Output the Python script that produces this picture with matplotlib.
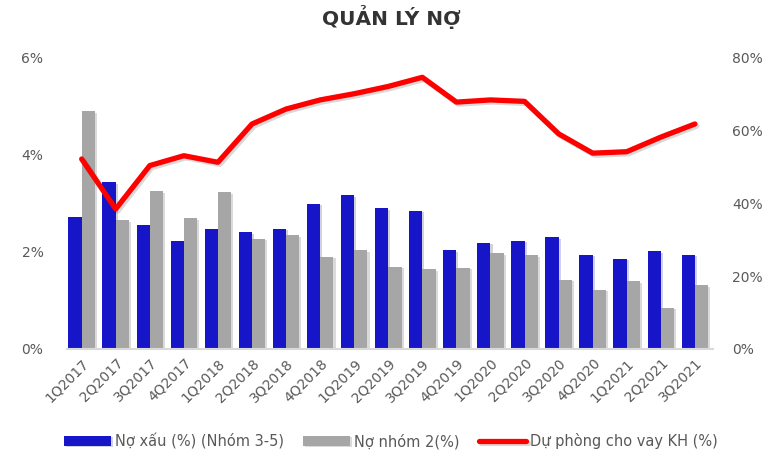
import numpy as np
import matplotlib
matplotlib.use("Agg")
import matplotlib.pyplot as plt
import matplotlib.patheffects as pe
from matplotlib.ticker import FuncFormatter

# Data
quarters = ["1Q2017", "2Q2017", "3Q2017", "4Q2017", "1Q2018", "2Q2018", "3Q2018",
            "4Q2018", "1Q2019", "2Q2019", "3Q2019", "4Q2019", "1Q2020", "2Q2020",
            "3Q2020", "4Q2020", "1Q2021", "2Q2021", "3Q2021"]
no_xau = [2.71, 3.43, 2.55, 2.22, 2.47, 2.40, 2.47, 2.98, 3.16, 2.89,
          2.84, 2.03, 2.18, 2.22, 2.30, 1.94, 1.86, 2.01, 1.94]
no_nhom2 = [4.89, 2.65, 3.24, 2.69, 3.22, 2.27, 2.34, 1.89, 2.03, 1.69,
            1.64, 1.67, 1.97, 1.93, 1.42, 1.22, 1.39, 0.85, 1.31]
du_phong = [52.1, 38.4, 50.3, 53.0, 51.2, 61.7, 65.8, 68.3, 70.0, 72.0,
            74.5, 67.7, 68.3, 67.9, 59.0, 53.7, 54.1, 58.1, 61.7]

labels = ["Nợ xấu (%) (Nhóm 3-5)", "Nợ nhóm 2(%)", "Dự phòng cho vay KH (%)"]

BLUE = "#1616C8"
GRAY = "#A6A6A6"
RED = "#FF0000"
TXT = "#595959"

plt.rcParams["font.family"] = ["DejaVu Sans"]

fig = plt.figure(figsize=(7.82, 4.58), dpi=100)
ax = fig.add_axes([0.0857, 0.238, 0.826, 0.637])
ax2 = ax.twinx()

x = np.arange(len(quarters))
w = 0.39
shadow = [pe.SimplePatchShadow(offset=(1.5, -1), alpha=0.18), pe.Normal()]
b1 = ax.bar(x - w / 2, no_xau, width=w, color=BLUE, label=labels[0], zorder=2)
b2 = ax.bar(x + w / 2, no_nhom2, width=w, color=GRAY, label=labels[1], zorder=2)
for p in list(b1) + list(b2):
    p.set_path_effects(shadow)
l1, = ax2.plot(x, du_phong, color=RED, lw=3.8, solid_joinstyle="round",
               solid_capstyle="round", label=labels[2],
               path_effects=[pe.SimpleLineShadow(offset=(1.5, -1.5), alpha=0.15),
                             pe.Normal()])

ax.set_xlim(-0.43, 18.53)
ax.set_ylim(0, 6)
ax.set_yticks([0, 2, 4, 6])
ax2.set_ylim(0, 80)
ax2.set_yticks([0, 20, 40, 60, 80])
ax.yaxis.set_major_formatter(FuncFormatter(lambda v, _: f"{v:.0f}%"))
ax2.yaxis.set_major_formatter(FuncFormatter(lambda v, _: f"{v:.0f}%"))

ax.set_xticks(x)
ax.set_xticklabels(quarters, rotation=45, ha="right", rotation_mode="anchor")

for a in (ax, ax2):
    for s in a.spines.values():
        s.set_visible(False)
    a.tick_params(length=0, colors=TXT, labelsize=10)
ax.spines["bottom"].set_visible(True)
ax.spines["bottom"].set_color("#D9D9D9")
ax.spines["bottom"].set_linewidth(1.5)
ax.tick_params(axis="y", pad=17)
ax2.tick_params(axis="y", pad=14)
ax.tick_params(axis="x", pad=5)

fig.text(0.5, 0.962, "QUẢN LÝ NỢ", ha="center", va="center",
         fontsize=14.5, fontweight="bold", color="#333333")

fig.legend(handles=[b1, b2, l1], loc="center", bbox_to_anchor=(0.5, 0.037),
           ncol=3, frameon=False, fontsize=10.5, handlelength=3.2,
           handletextpad=0.3, columnspacing=1.3, labelcolor=TXT)

fig.savefig("out.png", dpi=100)
